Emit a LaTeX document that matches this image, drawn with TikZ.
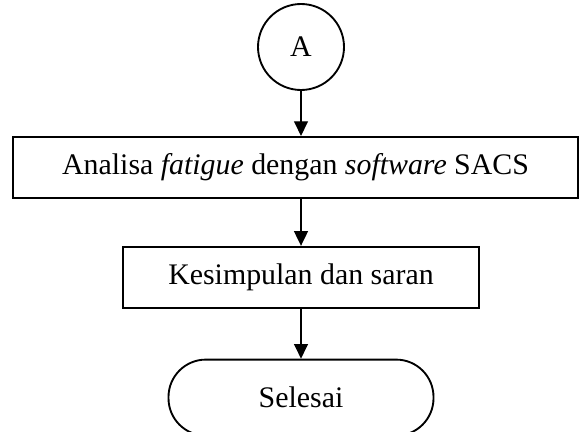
\documentclass[tikz,border=0pt]{standalone}
\usepackage{fontspec}
\setmainfont{Liberation Serif}
\usepackage{tikz}
\usetikzlibrary{arrows.meta,positioning}

\begin{document}
\begin{tikzpicture}[font=\fontsize{22.4}{27}\selectfont]
  \tikzset{proc/.style={draw,line width=1.4pt,minimum width=#1,minimum height=45.75pt,inner sep=0pt},
    conn/.style={draw,line width=1.4pt,circle,minimum size=64.5pt,inner sep=0pt},
    term/.style={draw,line width=1.4pt,rounded corners=28pt,minimum width=198.75pt,minimum height=57pt,inner sep=0pt},
    flow/.style={-{Triangle[length=11pt,width=10.5pt]},line width=0.8pt}}
  \useasboundingbox (0,0) rectangle (435pt,-323.25pt);
  \node[conn] (conA) at (225.75pt,-35.25pt) {A};
  \node[proc=423.75pt,below=33.75pt of conA,xshift=-4.1pt] (fatig) {Analisa \textit{fatigue} dengan \textit{software} SACS};
  \node[proc=267pt,below=35.25pt of fatig,xshift=4.1pt] (simp) {Kesimpulan dan saran};
  \node[term,below=37.5pt of simp] (done) {Selesai};
  \draw[flow] (conA) -- (conA |- fatig.north);
  \foreach \a/\b in {simp/fatig,done/simp} {
    \draw[flow] (\a |- \b.south) -- (\a);
  }
\end{tikzpicture}
\end{document}
